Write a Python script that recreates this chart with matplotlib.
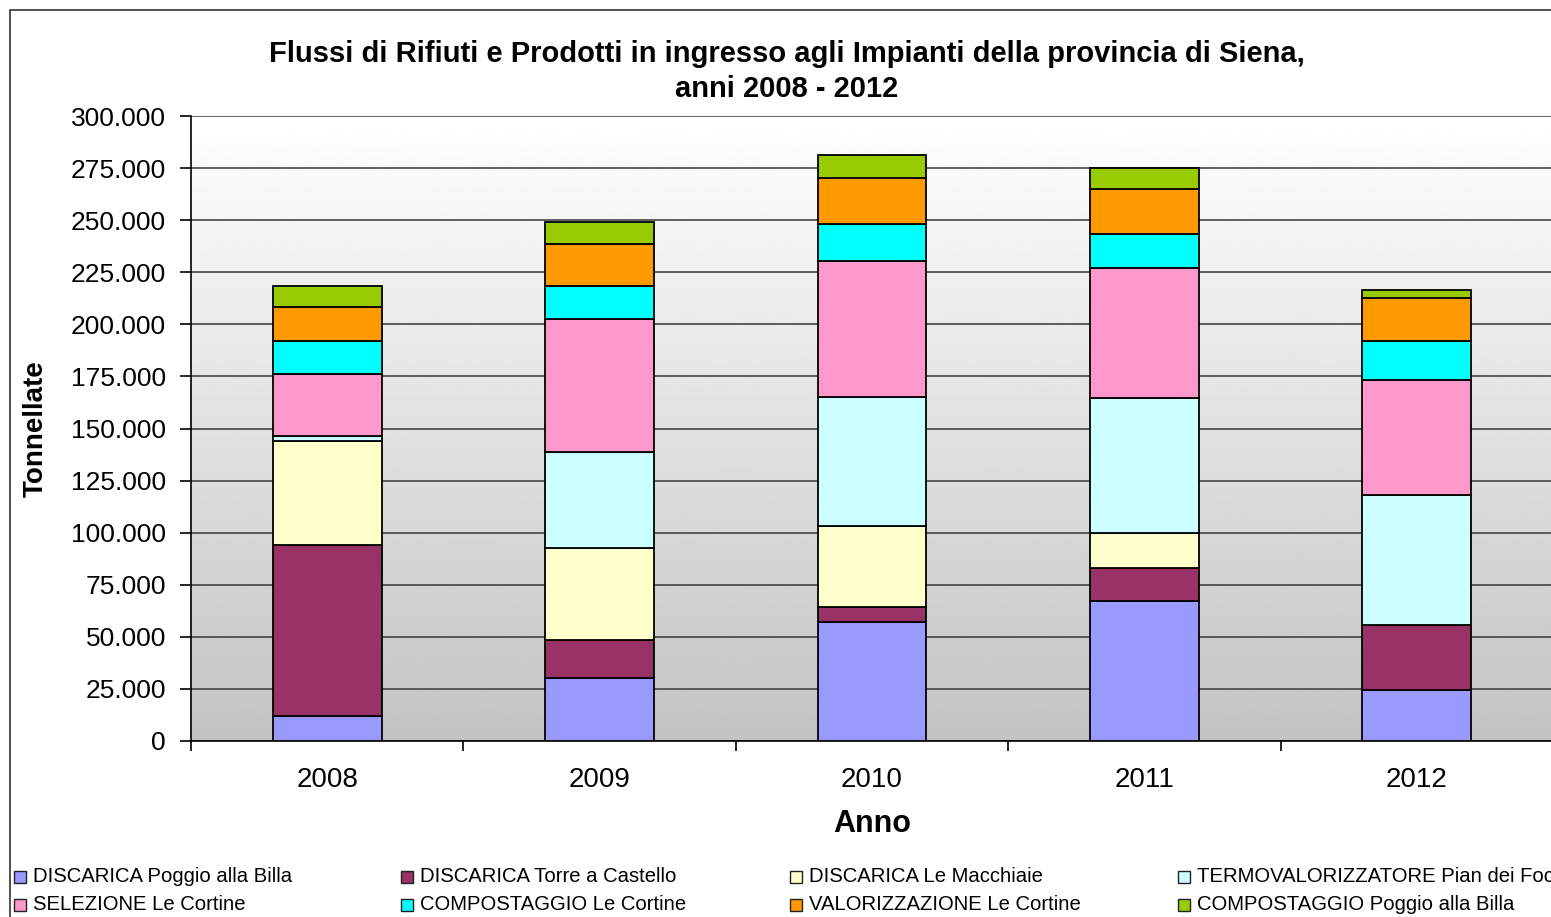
import numpy as np
import matplotlib.pyplot as plt
from matplotlib.patches import Rectangle
from matplotlib.ticker import FuncFormatter, MultipleLocator

plt.rcParams['font.family'] = ['Liberation Sans', 'DejaVu Sans']

anni = ['2008', '2009', '2010', '2011', '2012']

serie = [
    'DISCARICA Poggio alla Billa',
    'DISCARICA Torre a Castello',
    'DISCARICA Le Macchiaie',
    'TERMOVALORIZZATORE Pian dei Foco',
    'SELEZIONE Le Cortine',
    'COMPOSTAGGIO Le Cortine',
    'VALORIZZAZIONE Le Cortine',
    'COMPOSTAGGIO Poggio alla Billa',
]
colori = ['#9999ff', '#993366', '#ffffcc', '#ccffff',
          '#ff99cc', '#00ffff', '#ff9900', '#99cc00']

poggio_billa = [12000, 30200, 57100, 67200, 24500]
torre_castello = [82000, 18200, 7200, 15800, 31200]
macchiaie = [50000, 44200, 38900, 16800, 0]
termovalorizzatore = [2400, 46100, 61900, 64800, 62400]
selezione = [30000, 63800, 65300, 62400, 55200]
compost_cortine = [15700, 15900, 17800, 16400, 18700]
valorizzazione = [16300, 20200, 22000, 21600, 20500]
compost_poggio = [10200, 10700, 11100, 10000, 3800]

valori = [poggio_billa, torre_castello, macchiaie, termovalorizzatore,
          selezione, compost_cortine, valorizzazione, compost_poggio]

W, H = 1551, 917
fig = plt.figure(figsize=(W / 100, H / 100), dpi=100)

# cornice del grafico
fig.patches.append(Rectangle((10 / W, -0.05), 1.1, 1 - 10 / H + 0.05,
                             transform=fig.transFigure, fill=False,
                             edgecolor='#333333', linewidth=1.2))

ax = fig.add_axes([191 / W, 1 - 741 / H, (1553 - 191) / W, (741 - 116) / H])

# sfondo sfumato
grad = np.linspace(1.0, 0.765, 256).reshape(-1, 1)
ax.imshow(grad, cmap='gray', vmin=0, vmax=1, aspect='auto',
          extent=[-0.5, 4.5, 0, 300000], zorder=0)

x = np.arange(len(anni))
base = np.zeros(len(anni))
for nome, col, v in zip(serie, colori, valori):
    v = np.array(v, dtype=float)
    ax.bar(x, v, 0.4, bottom=base, color=col, edgecolor='black',
           linewidth=1.3, zorder=3)
    base += v

ax.set_xlim(-0.5, 4.5)
ax.set_ylim(0, 300000)
ax.yaxis.set_major_locator(MultipleLocator(25000))
ax.yaxis.set_major_formatter(FuncFormatter(
    lambda v, p: f'{int(v):,}'.replace(',', '.')))
ax.grid(axis='y', color='#444444', linewidth=1.2, zorder=1)
ax.set_axisbelow(True)

for s in ['top', 'right']:
    ax.spines[s].set_visible(False)
ax.spines['left'].set_linewidth(1.2)
ax.spines['bottom'].set_linewidth(1.2)

ax.set_xticks(x)
ax.set_xticklabels(anni)
ax.set_xticks(np.arange(-0.5, 5, 1), minor=True)
ax.tick_params(axis='x', which='major', length=0, labelsize=20, pad=19)
ax.tick_params(axis='x', which='minor', length=7, width=1.2, direction='out')
ax.tick_params(axis='y', length=8, width=1.2, labelsize=19, pad=10)

ax.set_xlabel('Anno', fontsize=22, fontweight='bold', labelpad=11)
ax.set_ylabel('Tonnellate', fontsize=20, fontweight='bold', labelpad=16)

fig.text(787 / W, 1 - 54 / H,
         'Flussi di Rifiuti e Prodotti in ingresso agli Impianti della provincia di Siena,',
         ha='center', va='center', fontsize=21, fontweight='bold')
fig.text(787 / W, 1 - 89 / H, 'anni 2008 - 2012',
         ha='center', va='center', fontsize=21, fontweight='bold')

# legenda su due righe, quattro colonne (tagliata a destra come nell'originale)
col_x = [14, 401, 790, 1178]
row_y = [877, 905]
for i, (nome, col) in enumerate(zip(serie, colori)):
    r, c = divmod(i, 4)
    px, py = col_x[c], row_y[r]
    fig.patches.append(Rectangle((px / W, 1 - (py + 6) / H), 12 / W, 12 / H,
                                 transform=fig.transFigure, facecolor=col,
                                 edgecolor='#222222', linewidth=1))
    fig.text((px + 19) / W, 1 - py / H, nome, ha='left', va='center',
             fontsize=14.6)

fig.savefig('out.png', dpi=100)
